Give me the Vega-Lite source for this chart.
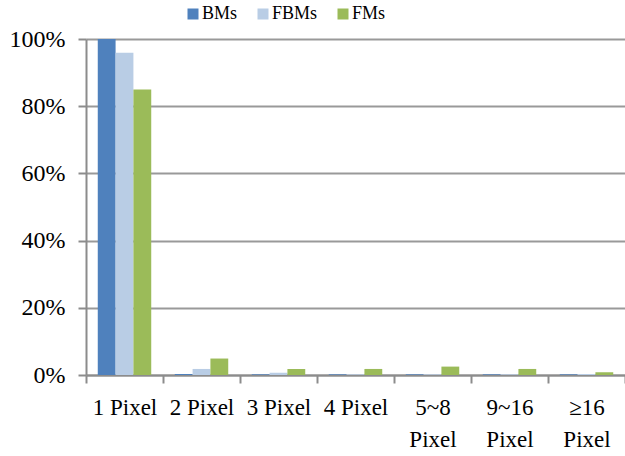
{
  "$schema": "https://vega.github.io/schema/vega-lite/v6.json",
  "width": 539,
  "height": 336,
  "autosize": {"type": "none"},
  "padding": {"left": 86, "top": 39, "right": 0, "bottom": 81},
  "background": "white",
  "config": {
    "view": {"stroke": null},
    "font": "Liberation Serif"
  },
  "data": {
    "values": [
      {"category": "1 Pixel", "series": "BMs", "value": 100},
      {"category": "1 Pixel", "series": "FBMs", "value": 95.9},
      {"category": "1 Pixel", "series": "FMs", "value": 85.0},
      {"category": "2 Pixel", "series": "BMs", "value": 0.3},
      {"category": "2 Pixel", "series": "FBMs", "value": 1.8},
      {"category": "2 Pixel", "series": "FMs", "value": 4.9},
      {"category": "3 Pixel", "series": "BMs", "value": 0.2},
      {"category": "3 Pixel", "series": "FBMs", "value": 0.7},
      {"category": "3 Pixel", "series": "FMs", "value": 1.8},
      {"category": "4 Pixel", "series": "BMs", "value": 0.2},
      {"category": "4 Pixel", "series": "FBMs", "value": 0.2},
      {"category": "4 Pixel", "series": "FMs", "value": 1.8},
      {"category": "5~8 Pixel", "series": "BMs", "value": 0.2},
      {"category": "5~8 Pixel", "series": "FBMs", "value": 0.2},
      {"category": "5~8 Pixel", "series": "FMs", "value": 2.5},
      {"category": "9~16 Pixel", "series": "BMs", "value": 0.2},
      {"category": "9~16 Pixel", "series": "FBMs", "value": 0.2},
      {"category": "9~16 Pixel", "series": "FMs", "value": 1.8},
      {"category": "≥16 Pixel", "series": "BMs", "value": 0.2},
      {"category": "≥16 Pixel", "series": "FBMs", "value": 0.3},
      {"category": "≥16 Pixel", "series": "FMs", "value": 0.8}
    ]
  },
  "mark": {"type": "bar"},
  "encoding": {
    "x": {
      "field": "category",
      "type": "nominal",
      "sort": null,
      "scale": {"paddingInner": 0, "paddingOuter": 0},
      "axis": {
        "title": null,
        "labelAngle": 0,
        "labelFont": "Liberation Serif",
        "labelFontSize": 23,
        "labelColor": "black",
        "labelLineHeight": 32,
        "labelPadding": 13,
        "labelExpr": "indexof(datum.label, 'Pixel') > 3 ? split(datum.label, ' ') : datum.label",
        "tickBand": "extent",
        "tickSize": 8,
        "tickColor": "#8c8c8c",
        "tickWidth": 2,
        "domainColor": "#8c8c8c",
        "domainWidth": 2,
        "grid": false
      }
    },
    "xOffset": {
      "field": "series",
      "type": "nominal",
      "sort": ["BMs", "FBMs", "FMs"],
      "scale": {"paddingInner": 0, "paddingOuter": 0.66}
    },
    "y": {
      "field": "value",
      "type": "quantitative",
      "scale": {"domain": [0, 100], "nice": false},
      "axis": {
        "title": null,
        "values": [0, 20, 40, 60, 80, 100],
        "labelExpr": "datum.value + '%'",
        "labelFont": "Liberation Serif",
        "labelFontSize": 24,
        "labelColor": "black",
        "labelPadding": 13,
        "tickSize": 8,
        "tickColor": "#8c8c8c",
        "tickWidth": 2,
        "domainColor": "#8c8c8c",
        "domainWidth": 2,
        "grid": true,
        "gridColor": "#999999",
        "gridWidth": 2
      }
    },
    "color": {
      "field": "series",
      "type": "nominal",
      "sort": ["BMs", "FBMs", "FMs"],
      "scale": {"domain": ["BMs", "FBMs", "FMs"], "range": ["#4F81BD", "#B9CDE5", "#9BBB59"]},
      "legend": {
        "title": null,
        "orient": "none",
        "direction": "horizontal",
        "legendX": 98,
        "legendY": -34,
        "padding": 0,
        "symbolType": "square",
        "symbolSize": 121,
        "symbolStrokeWidth": 0,
        "symbolOpacity": 1,
        "labelFont": "Liberation Serif",
        "labelFontSize": 18,
        "labelColor": "black",
        "labelOffset": 0,
        "columnPadding": 16
      }
    }
  }
}
